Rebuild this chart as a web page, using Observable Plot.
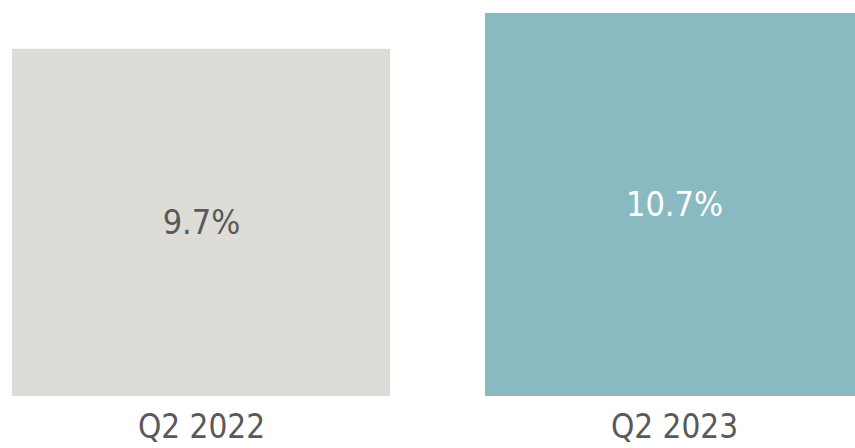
<!DOCTYPE html>
<html>
<head>
<meta charset="utf-8">
<script src="https://cdn.jsdelivr.net/npm/d3@7"></script>
<script src="https://cdn.jsdelivr.net/npm/@observablehq/plot@0.6"></script>
<style>
  html, body { margin: 0; padding: 0; background: #fff; overflow: hidden; }
  #chart svg { overflow: hidden; }
</style>
</head>
<body>
<div id="chart"></div>
<script>
const categories = ["Q2 2022", "Q2 2023"];
const values = [9.7, 10.7];
const valueLabels = ["9.7%", "10.7%"];
const barColors = ["#dddcd7", "#89bac2"];
const textColors = ["#595959", "#ffffff"];

const data = categories.map((c, i) => ({
  cat: c, value: values[i], label: valueLabels[i], fill: barColors[i], text: textColors[i]
}));

const font = "'DejaVu Sans Condensed', 'DejaVu Sans', sans-serif";

const chart = Plot.plot({
  width: 855,
  height: 448,
  marginTop: 13,
  marginBottom: 52,
  marginLeft: 12,
  marginRight: 0,
  style: { fontFamily: font, background: "#fff" },
  x: { domain: categories, range: [12, 864], paddingInner: 0.2, paddingOuter: 0, label: null },
  y: { domain: [0, 10.7], axis: null },
  marks: [
    Plot.barY(data, { x: "cat", y: "value", fill: d => d.fill }),
    Plot.text(data, { x: "cat", y: d => d.value / 2, text: "label", fill: d => d.text,
      fontSize: 34, lineAnchor: "middle" }),
    Plot.axisX({ tickSize: 0, tickPadding: 18, fontSize: 33, color: "#595959", label: null })
  ]
});
document.getElementById("chart").append(chart);
</script>
</body>
</html>
